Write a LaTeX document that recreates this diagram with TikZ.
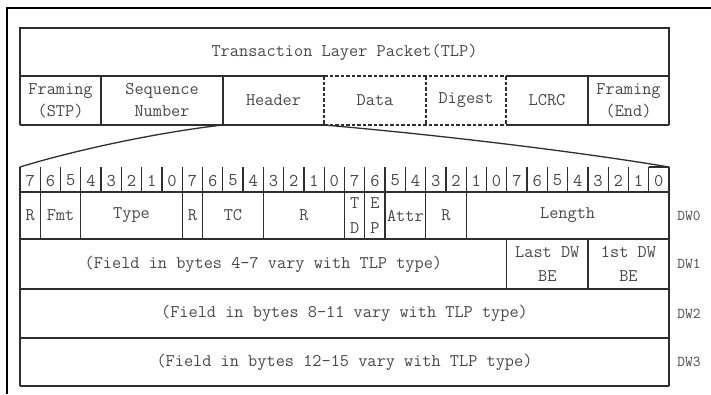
\documentclass[tikz,border=0pt]{standalone}
\usetikzlibrary{calc}
\definecolor{linec}{HTML}{2E2E2E}
\definecolor{txtc}{HTML}{484848}
\begin{document}
\begin{tikzpicture}[x=1pt,y=-1pt,
  solidline/.style={draw=linec,line width=1.3pt},
  dashline/.style={draw=linec,line width=1.1pt,dash pattern=on 3.5pt off 2pt},
  lbl/.style={text=txtc,inner sep=0pt,align=center,
    font=\fontsize{17.8}{22}\selectfont\ttfamily},
  dwlbl/.style={text=txtc,inner sep=0pt,
    font=\fontsize{15}{16}\selectfont\ttfamily},
  bitnum/.style={text=txtc,inner sep=0pt,
    font=\fontsize{18}{20}\selectfont\ttfamily}]
\useasboundingbox (0,0) rectangle (711,394);

% page frame
\draw[draw=black,line width=1.8pt] (7,394) -- (7,8) -- (711,8);

% ---- TLP packet ----
\draw[solidline] (20,76) -- (20,28) -- (669,28) -- (669,125);
\draw[solidline] (20,76) -- (20,125);
\draw[solidline] (20,76) -- (324,76);
\draw[dashline]  (324,76) -- (506,76);
\draw[solidline] (506,76) -- (669,76);
\draw[solidline] (20,125) -- (324,125);
\draw[dashline]  (324,125) -- (506,125);
\draw[solidline] (506,125) -- (669,125);
\foreach \x in {101,223,588} \draw[solidline] (\x,76) -- (\x,125);
\foreach \x in {324,426,506} \draw[dashline] (\x,76) -- (\x,125);

\node[lbl] (tlp) at (344.5,52) {Transaction Layer Packet(TLP)};
\node[lbl] (stp) at (60.5,100.5) {Framing\\(STP)};
\node[lbl] (seq) at (162,100.5) {Sequence\\Number};
\node[lbl] (hdr) at (273.5,100.5) {Header};
\node[lbl] (data) at (375,100.5) {Data};
\node[lbl] (dig) at (466,100.5) {Digest};
\node[lbl] (lcrc) at (547,100.5) {LCRC};
\node[lbl] (fend) at (628.5,100.5) {Framing\\(End)};

% ---- header expansion ----
\coordinate (hdrBL) at (223,125);
\coordinate (hdrBR) at (324,125);
\coordinate (tblTL) at (20,167);
\coordinate (tblTR) at (669,167);
\draw[solidline] (hdrBL) .. controls (160,132) and (75,150) .. (tblTL);
\draw[solidline] (hdrBR) .. controls (440,135) and (580,152) .. (tblTR);

\def\bw{20.28125}
% bit numbers
\foreach \i in {0,...,31}{
  \pgfmathtruncatemacro{\b}{7-mod(\i,8)}
  \node[bitnum] (bit\i) at ({20+(\i+0.5)*\bw},180.5) {\b};
}
\foreach \i in {0,...,32} \draw[solidline] ({20+\i*\bw},167) -- ({20+\i*\bw},192);
\draw[solidline] ({20+31*\bw},167) -- (669,167);

% rows
\foreach \y in {192,239,289,338,386} \draw[solidline] (20,\y) -- (669,\y);
\draw[solidline] (20,192) -- (20,386);
\draw[solidline] (669,192) -- (669,386);

% DW0 fields
\foreach \c in {1,3,8,9,12,16,17,18,20,22}
  \draw[solidline] ({20+\c*\bw},192) -- ({20+\c*\bw},239);
\newcommand{\fieldat}[4]{%
  \node[lbl] (#1) at ({20+(#2+#3)/2*\bw},215.5) {#4};}
\fieldat{fR1}{0}{1}{R}
\fieldat{fFmt}{1}{3}{Fmt}
\fieldat{fType}{3}{8}{Type}
\fieldat{fR2}{8}{9}{R}
\fieldat{fTC}{9}{12}{TC}
\fieldat{fR3}{12}{16}{R}
\node[lbl,font=\fontsize{17.8}{25}\selectfont\ttfamily] (fTD) at ({20+16.5*\bw},216) {T\\D};
\node[lbl,font=\fontsize{17.8}{25}\selectfont\ttfamily] (fEP) at ({20+17.5*\bw},216) {E\\P};
\fieldat{fAttr}{18}{20}{Attr}
\fieldat{fR4}{20}{22}{R}
\fieldat{fLen}{22}{32}{Length}

% DW1 fields
\foreach \c in {24,28}
  \draw[solidline] ({20+\c*\bw},239) -- ({20+\c*\bw},289);
\node[lbl] (dw1txt) at ({20+12*\bw},264) {(Field in bytes 4-7 vary with TLP type)};
\node[lbl,font=\fontsize{17.8}{24}\selectfont\ttfamily] (lastbe) at ({20+26*\bw},264) {Last DW\\BE};
\node[lbl,font=\fontsize{17.8}{24}\selectfont\ttfamily] (firstbe) at ({20+30*\bw},264) {1st DW\\BE};

% DW2 / DW3
\node[lbl] (dw2txt) at (344.5,313.5) {(Field in bytes 8-11 vary with TLP type)};
\node[lbl] (dw3txt) at (344.5,362) {(Field in bytes 12-15 vary with TLP type)};

% dword labels
\node[dwlbl] (dw0) at (689,215.5) {DW0};
\node[dwlbl] (dw1) at (689,264) {DW1};
\node[dwlbl] (dw2) at (689,313.5) {DW2};
\node[dwlbl] (dw3) at (689,362) {DW3};
\end{tikzpicture}
\end{document}
